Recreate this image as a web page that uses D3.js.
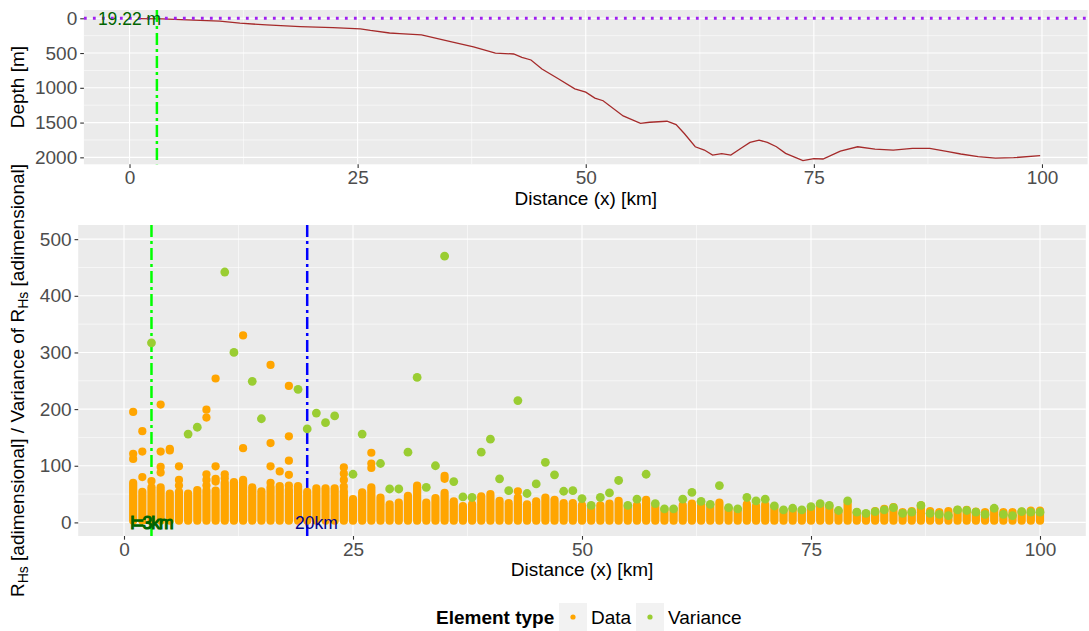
<!DOCTYPE html>
<html>
<head>
<meta charset="utf-8">
<script src="https://cdn.jsdelivr.net/npm/d3@7"></script>
<style>
  body { margin: 0; background: #fff; }
  text { font-family: "Liberation Sans", Arial, sans-serif; }
</style>
</head>
<body>
<div id="chart"></div>
<script>
// depth profile (top panel)
const depthKm = [1, 3.6, 6.3, 9.9, 12.1, 15, 18.7, 22.3, 25.3, 26.4, 28.5, 29.6, 32, 35.3, 37.7, 40.1, 42.1, 43, 44, 45.2, 46.9, 48.8, 50, 51, 51.9, 54.1, 56, 57, 58.9, 59.9, 60.8, 62, 63, 63.9, 64.9, 65.9, 67.1, 68, 69, 69.9, 70.9, 71.9, 73.8, 75, 76, 77.9, 79.8, 81.7, 83.7, 85.8, 87.7, 89.7, 91.1, 93, 94.9, 96.9, 99.8];
const depthM = [5, 10, 24, 40, 70, 96, 120, 135, 152, 175, 212, 220, 240, 338, 410, 500, 514, 562, 600, 729, 862, 1014, 1062, 1148, 1186, 1405, 1510, 1495, 1481, 1529, 1657, 1848, 1895, 1967, 1948, 1967, 1862, 1786, 1752, 1786, 1848, 1943, 2048, 2019, 2024, 1910, 1848, 1881, 1895, 1871, 1871, 1919, 1952, 1990, 2010, 2005, 1976];

// bottom panel: dense "Data" column top for km 1..100
const dataColTop = [70, 54, 62, 62, 51, 54, 51, 57, 56, 56, 70, 71, 75, 62, 55, 62, 64, 58, 64, 54,
  60, 60, 60, 55, 41, 53, 62, 44, 32, 35, 47, 65, 35, 43, 52, 37, 29, 32, 46, 50,
  38, 34, 44, 32, 37, 44, 40, 34, 34, 30, 24, 30, 33, 38, 27, 30, 40, 27, 20, 20,
  30, 33, 30, 27, 35, 24, 21, 32, 29, 31, 24, 18, 21, 20, 24, 28, 28, 18, 33, 18,
  15, 20, 24, 27, 18, 20, 30, 20, 18, 20, 22, 22, 19, 18, 24, 18, 18, 19, 21, 21];
const dataColBase = 3;

// isolated "Data" points [km, value]
const dataOutliers = [
  [1, 112], [1, 121], [1, 195], [2, 80], [2, 125], [2, 161], [3, 73],
  [4, 88], [4, 98], [4, 125], [4, 208], [5, 127], [5, 130], [6, 65], [6, 75], [6, 99],
  [9, 65], [9, 75], [9, 85], [9, 185], [9, 199], [10, 72], [10, 77], [10, 99], [10, 254],
  [11, 78], [11, 85], [13, 131], [13, 330], [16, 70], [16, 99], [16, 140], [16, 278], [17, 90],
  [18, 65], [18, 84], [18, 109], [18, 152], [18, 241], [24, 63], [24, 75], [24, 86], [24, 97],
  [27, 96], [27, 104], [27, 123], [35, 77], [35, 82], [43, 55]
];

// "Variance" points [km, value]
const variancePts = [
  [3, 317], [7, 156], [8, 168], [11, 442], [12, 300], [14, 249], [15, 183], [19, 235], [20, 165],
  [21, 193], [22, 176], [23, 188], [25, 85], [26, 156], [28, 104], [29, 59], [30, 59], [31, 124],
  [32, 256], [33, 62], [34, 100], [35, 470], [36, 72], [37, 45], [38, 44], [39, 124], [40, 147],
  [41, 77], [42, 56], [43, 215], [44, 51], [45, 68], [46, 106], [47, 84], [48, 55], [49, 56],
  [50, 42], [51, 30], [52, 44], [53, 52], [54, 74], [55, 30], [56, 41], [57, 85], [58, 33],
  [59, 24], [60, 24], [61, 41], [62, 53], [63, 37], [64, 32], [65, 65], [66, 26], [67, 24],
  [68, 44], [69, 38], [70, 41], [71, 29], [72, 22], [73, 25], [74, 22], [75, 28], [76, 33],
  [77, 30], [78, 21], [79, 38], [80, 18], [81, 16], [82, 19], [83, 22], [84, 26], [85, 16],
  [86, 18], [87, 30], [88, 16], [89, 14], [90, 12], [91, 22], [92, 21], [93, 18], [94, 14],
  [95, 25], [96, 14], [97, 12], [98, 19], [99, 18], [100, 18]
];

const xTicks = [0, 25, 50, 75, 100];
const depthTicks = [0, 500, 1000, 1500, 2000];
const rTicks = [0, 100, 200, 300, 400, 500];
const refLines = [{ x: 3, color: "#00FF00", label: "l=3km", labelX: 3, labelColor: "#006400" },
                  { x: 20, color: "#0000FF", label: "20km", labelX: 21, labelColor: "#00008B" }];
const depthLabel = "19.22 m";
const legendItems = [{ name: "Data", color: "#FFA500" }, { name: "Variance", color: "#9ACD32" }];

const width = 1089, height = 631;
const fs = 19;

const svg = d3.select("#chart").append("svg")
  .attr("width", width).attr("height", height);

function panel(x, y, xMinor, yMinor) {
  const [x0, x1] = x.range();
  const [y0, y1] = y.range();
  const g = svg.append("g");
  g.append("rect")
    .attr("x", x0).attr("y", Math.min(y0, y1))
    .attr("width", x1 - x0).attr("height", Math.abs(y1 - y0))
    .attr("fill", "#EBEBEB");
  g.selectAll(".vmin").data(xMinor).join("line")
    .attr("x1", d => x(d)).attr("x2", d => x(d)).attr("y1", y0).attr("y2", y1)
    .attr("stroke", "#fff").attr("stroke-width", 0.55);
  g.selectAll(".hmin").data(yMinor).join("line")
    .attr("y1", d => y(d)).attr("y2", d => y(d)).attr("x1", x0).attr("x2", x1)
    .attr("stroke", "#fff").attr("stroke-width", 0.55);
  return g;
}

function majorGrid(g, x, y, xt, yt) {
  const [x0, x1] = x.range();
  const [y0, y1] = y.range();
  g.selectAll(".vmaj").data(xt).join("line")
    .attr("x1", d => x(d)).attr("x2", d => x(d)).attr("y1", y0).attr("y2", y1)
    .attr("stroke", "#fff").attr("stroke-width", 1.1);
  g.selectAll(".hmaj").data(yt).join("line")
    .attr("y1", d => y(d)).attr("y2", d => y(d)).attr("x1", x0).attr("x2", x1)
    .attr("stroke", "#fff").attr("stroke-width", 1.1);
}

function styleAxis(g) {
  g.select(".domain").remove();
  g.selectAll(".tick line").attr("stroke", "#333333").attr("stroke-width", 1.1);
  g.selectAll(".tick text").attr("fill", "#4D4D4D").attr("font-size", fs)
    .attr("font-family", "Liberation Sans, Arial, sans-serif");
}

// ---------- top panel ----------
const xTop = d3.scaleLinear().domain([-5, 105]).range([83.9, 1087.6]);
const yTop = d3.scaleLinear().domain([-119, 2100]).range([10, 164.3]);

const gTop = panel(xTop, yTop, [12.5, 37.5, 62.5, 87.5], [250, 750, 1250, 1750]);
majorGrid(gTop, xTop, yTop, xTicks, depthTicks);

gTop.append("path")
  .datum(d3.zip(depthKm, depthM))
  .attr("fill", "none")
  .attr("stroke", "#A52A2A")
  .attr("stroke-width", 1.3)
  .attr("d", d3.line().x(d => xTop(d[0])).y(d => yTop(d[1])));

gTop.append("line")
  .attr("x1", xTop.range()[0]).attr("x2", xTop.range()[1])
  .attr("y1", yTop(0)).attr("y2", yTop(0))
  .attr("stroke", "#A020F0").attr("stroke-width", 2.8)
  .attr("stroke-dasharray", "2.8,6.2");

gTop.append("line")
  .attr("x1", xTop(refLines[0].x)).attr("x2", xTop(refLines[0].x))
  .attr("y1", yTop.range()[0]).attr("y2", yTop.range()[1])
  .attr("stroke", refLines[0].color).attr("stroke-width", 2.5)
  .attr("stroke-dasharray", "12,4,3,4");

gTop.append("text")
  .attr("x", xTop(0)).attr("y", yTop(0)).attr("dy", "0.36em")
  .attr("text-anchor", "middle").attr("font-size", 17.5)
  .attr("fill", "#006400").text(depthLabel);

svg.append("g")
  .attr("transform", `translate(0,${yTop.range()[1]})`)
  .call(d3.axisBottom(xTop).tickValues(xTicks).tickSize(3.67).tickPadding(3))
  .call(styleAxis);
svg.append("g")
  .attr("transform", `translate(${xTop.range()[0]},0)`)
  .call(d3.axisLeft(yTop).tickValues(depthTicks).tickFormat(d3.format("d")).tickSize(3.67).tickPadding(3))
  .call(styleAxis);

svg.append("text")
  .attr("x", (xTop.range()[0] + xTop.range()[1]) / 2).attr("y", 205)
  .attr("text-anchor", "middle").attr("font-size", fs).attr("fill", "#000")
  .text("Distance (x) [km]");
svg.append("text")
  .attr("transform", `translate(24,${(yTop.range()[0] + yTop.range()[1]) / 2}) rotate(-90)`)
  .attr("text-anchor", "middle").attr("font-size", fs).attr("fill", "#000")
  .text("Depth [m]");

// ---------- bottom panel ----------
const xBot = d3.scaleLinear().domain([-5, 105]).range([78.2, 1085.8]);
const yBot = d3.scaleLinear().domain([-24, 525]).range([536, 225]);

const gBot = panel(xBot, yBot, [12.5, 37.5, 62.5, 87.5], [50, 150, 250, 350, 450]);
majorGrid(gBot, xBot, yBot, xTicks, rTicks);

gBot.selectAll(".ref").data(refLines).join("line")
  .attr("x1", d => xBot(d.x)).attr("x2", d => xBot(d.x))
  .attr("y1", yBot.range()[0]).attr("y2", yBot.range()[1])
  .attr("stroke", d => d.color).attr("stroke-width", 2.5)
  .attr("stroke-dasharray", "12,4,3,4");

// dense data columns (overlapping points)
gBot.append("g").selectAll("line").data(dataColTop).join("line")
  .attr("x1", (d, i) => xBot(i + 1)).attr("x2", (d, i) => xBot(i + 1))
  .attr("y1", yBot(dataColBase)).attr("y2", d => yBot(d))
  .attr("stroke", legendItems[0].color).attr("stroke-width", 8.2)
  .attr("stroke-linecap", "round");

gBot.append("g").selectAll("circle").data(dataOutliers).join("circle")
  .attr("cx", d => xBot(d[0])).attr("cy", d => yBot(d[1])).attr("r", 4.1)
  .attr("fill", legendItems[0].color);

gBot.append("g").selectAll("circle").data(variancePts).join("circle")
  .attr("cx", d => xBot(d[0])).attr("cy", d => yBot(d[1])).attr("r", 4.4)
  .attr("fill", legendItems[1].color);

gBot.selectAll(".reflab").data(refLines).join("text")
  .attr("x", d => xBot(d.labelX)).attr("y", yBot(0)).attr("dy", "0.36em")
  .attr("text-anchor", "middle").attr("font-size", 17.5)
  .attr("fill", d => d.labelColor)
  .attr("stroke", (d, i) => i === 0 ? d.labelColor : "none")
  .attr("stroke-width", 1.2)
  .attr("letter-spacing", (d, i) => i === 0 ? -1 : 0)
  .text(d => d.label);

svg.append("g")
  .attr("transform", `translate(0,${yBot.range()[0]})`)
  .call(d3.axisBottom(xBot).tickValues(xTicks).tickSize(3.67).tickPadding(3))
  .call(styleAxis);
svg.append("g")
  .attr("transform", `translate(${xBot.range()[0]},0)`)
  .call(d3.axisLeft(yBot).tickValues(rTicks).tickSize(3.67).tickPadding(3))
  .call(styleAxis);

svg.append("text")
  .attr("x", (xBot.range()[0] + xBot.range()[1]) / 2).attr("y", 576)
  .attr("text-anchor", "middle").attr("font-size", fs).attr("fill", "#000")
  .text("Distance (x) [km]");

const yTitle = svg.append("text")
  .attr("transform", `translate(24,${(yBot.range()[0] + yBot.range()[1]) / 2}) rotate(-90)`)
  .attr("text-anchor", "middle").attr("font-size", fs).attr("fill", "#000");
yTitle.append("tspan").text("R");
yTitle.append("tspan").attr("font-size", 14).attr("dy", 4).text("Hs");
yTitle.append("tspan").attr("dy", -4).text(" [adimensional] / Variance of R");
yTitle.append("tspan").attr("font-size", 14).attr("dy", 4).text("Hs");
yTitle.append("tspan").attr("dy", -4).text(" [adimensional]");

// ---------- legend ----------
const leg = svg.append("g");
leg.append("text").attr("x", 436).attr("y", 624)
  .attr("font-size", fs).attr("font-weight", "bold").attr("fill", "#000")
  .text("Element type");
const keyX = [559, 636];
legendItems.forEach((d, i) => {
  leg.append("rect").attr("x", keyX[i]).attr("y", 603).attr("width", 28).attr("height", 28)
    .attr("fill", "#F2F2F2");
  leg.append("circle").attr("cx", keyX[i] + 14).attr("cy", 617).attr("r", 2.6).attr("fill", d.color);
  leg.append("text").attr("x", keyX[i] + 32).attr("y", 624)
    .attr("font-size", fs).attr("fill", "#000").text(d.name);
});
</script>
</body>
</html>
